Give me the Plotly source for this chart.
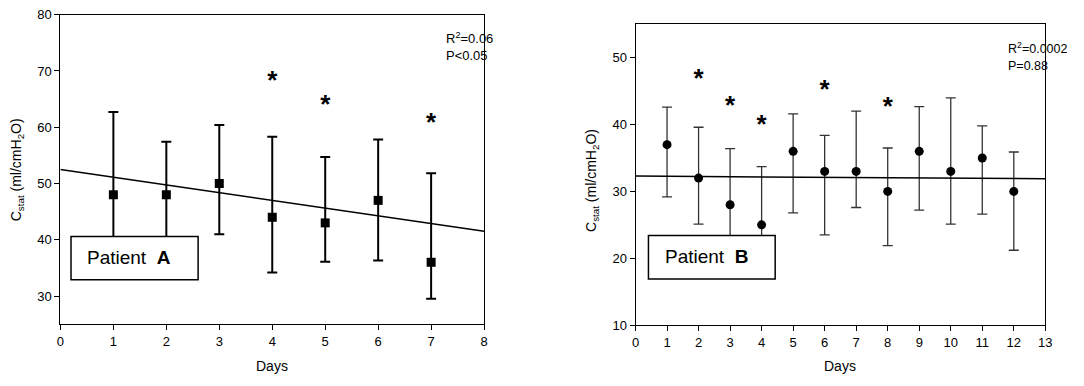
import plotly.graph_objects as go

# ---------------- data ----------------
days_a = [1, 2, 3, 4, 5, 6, 7]
mean_a = [48, 48, 50, 44, 43, 47, 36]
upper_a = [62.7, 57.4, 60.4, 58.3, 54.7, 57.8, 51.8]
lower_a = [33.5, 38.6, 41.0, 34.2, 36.1, 36.3, 29.5]
star_days_a = [4, 5, 7]
star_y_a = [68.9, 64.7, 61.4]
fit_a = {"intercept": 52.5, "slope": -1.375}

days_b = [1, 2, 3, 4, 5, 6, 7, 8, 9, 10, 11, 12]
mean_b = [37, 32, 28, 25, 36, 33, 33, 30, 36, 33, 35, 30]
upper_b = [42.6, 39.6, 36.4, 33.7, 41.6, 38.4, 42.0, 36.5, 42.7, 44.0, 39.8, 35.9]
lower_b = [29.2, 25.1, 19.8, 17.6, 26.8, 23.5, 27.6, 21.9, 27.2, 25.1, 26.6, 21.2]
star_days_b = [2, 3, 4, 6, 8]
star_y_b = [47.4, 43.4, 40.6, 45.8, 43.2]
fit_b = {"intercept": 32.3, "slope": -0.031}

xticks_a = list(range(0, 9))
xticks_b = list(range(0, 14))

FONT = "Arial, Liberation Sans, sans-serif"
W, H = 1084, 386

fig = go.Figure()

def add_panel(days, mean, upper, lower, sdays, sy, star_shift, fit, xmax, xa, ya,
              symbol, ew, ecolor):
    plus = [u - m for u, m in zip(upper, mean)]
    minus = [m - l for m, l in zip(mean, lower)]
    fig.add_trace(go.Scatter(
        x=days, y=mean, mode="markers", xaxis=xa, yaxis=ya,
        marker=dict(symbol=symbol, size=9, color="black"),
        error_y=dict(type="data", symmetric=False, array=plus, arrayminus=minus,
                     color=ecolor, thickness=ew, width=5),
        showlegend=False, cliponaxis=False))
    fx = [0, xmax]
    fy = [fit["intercept"] + fit["slope"] * v for v in fx]
    fig.add_trace(go.Scatter(x=fx, y=fy, mode="lines", xaxis=xa, yaxis=ya,
                             line=dict(color="black", width=1.5), showlegend=False))
    # the asterisk glyph sits high in its text box, so the anchor is lowered a bit
    fig.add_trace(go.Scatter(x=sdays, y=[v - star_shift for v in sy], mode="text",
                             text=["<b>*</b>"] * len(sdays),
                             textposition="middle center", xaxis=xa, yaxis=ya,
                             textfont=dict(family=FONT, size=26, color="black"),
                             showlegend=False, cliponaxis=False))

add_panel(days_a, mean_a, upper_a, lower_a, star_days_a, star_y_a, 1.0,
          fit_a, 8, "x", "y", "square", 2, "black")
add_panel(days_b, mean_b, upper_b, lower_b, star_days_b, star_y_b, 0.85,
          fit_b, 13, "x2", "y2", "circle", 1.3, "#333333")

axis_common = dict(showline=True, linecolor="black", linewidth=1, mirror=True,
                   ticks="outside", ticklen=5, tickcolor="black", tickwidth=1,
                   showgrid=False, zeroline=False,
                   tickfont=dict(family=FONT, size=13, color="black"))

fig.update_layout(
    autosize=True,
    margin=dict(l=0, r=0, t=0, b=0),
    paper_bgcolor="white", plot_bgcolor="white",
    font=dict(family=FONT, color="black", size=13),
    xaxis=dict(domain=[57 / W, 485 / W], range=[0, 8], tickvals=xticks_a,
               anchor="y", **axis_common),
    yaxis=dict(domain=[56 / H, 378 / H], range=[25, 80], tick0=0, dtick=10,
               anchor="x", **axis_common),
    xaxis2=dict(domain=[638 / W, 1052 / W], range=[0, 13], tickvals=xticks_b,
                anchor="y2", **axis_common),
    yaxis2=dict(domain=[55 / H, 368 / H], range=[10, 55], tick0=0, dtick=10,
                anchor="x2", **axis_common),
)

# boxes with labels
fig.add_shape(type="rect", xref="x", yref="y", x0=0.2, x1=2.6, y0=32.9, y1=40.6,
              fillcolor="white", line=dict(color="black", width=1.5), layer="above")
fig.add_shape(type="rect", xref="x2", yref="y2", x0=0.41, x1=4.43, y0=16.9, y1=23.4,
              fillcolor="white", line=dict(color="black", width=1.5), layer="above")

ann = []
ann.append(dict(x=1.29, y=36.9, xref="x", yref="y", text="Patient  <b>A</b>",
                xanchor="center", yanchor="middle",
                showarrow=False, font=dict(family=FONT, size=19, color="black")))
ann.append(dict(x=2.25, y=20.2, xref="x2", yref="y2", text="Patient  <b>B</b>",
                xanchor="center", yanchor="middle",
                showarrow=False, font=dict(family=FONT, size=19, color="black")))
# stats
ann.append(dict(x=445 / W, y=1 - 22 / H, xref="paper", yref="paper", xanchor="left",
                yanchor="top", align="left", showarrow=False,
                text="R<sup>2</sup>=0.06<br>P<0.05",
                font=dict(family=FONT, size=13, color="black")))
ann.append(dict(x=1012 / W, y=1 - 32 / H, xref="paper", yref="paper", xanchor="left",
                yanchor="top", align="left", showarrow=False,
                text="R<sup>2</sup>=0.0002<br>P=0.88",
                font=dict(family=FONT, size=12.5, color="black")))
# axis titles
for xc, yc in [(14 / W, 1 - 169 / H), (594 / W, 1 - 180 / H)]:
    ann.append(dict(x=xc, y=yc, xref="paper", yref="paper", textangle=-90, showarrow=False,
                    xanchor="center", yanchor="middle",
                    text="C<sub>stat</sub> (ml/cmH<sub>2</sub>O)",
                    font=dict(family=FONT, size=14, color="black")))
for xc in [(57 + 485) / 2 / W, (638 + 1052) / 2 / W]:
    ann.append(dict(x=xc, y=1 - 374 / H, xref="paper", yref="paper", showarrow=False,
                    xanchor="center", yanchor="middle",
                    text="Days", font=dict(family=FONT, size=14, color="black")))
fig.update_layout(annotations=ann)

post = ("document.documentElement.style.margin='0';"
        "document.body.style.margin='0';document.body.style.padding='0';"
        "document.body.style.overflow='hidden';"
        "var gd=document.getElementById('{plot_id}');"
        "gd.style.width='100vw';gd.style.height='100vh';"
        "Plotly.Plots.resize(gd);")

fig.write_html("out.html", default_width="100vw", default_height="100vh",
               config={"displayModeBar": False, "responsive": True},
               post_script=post)
